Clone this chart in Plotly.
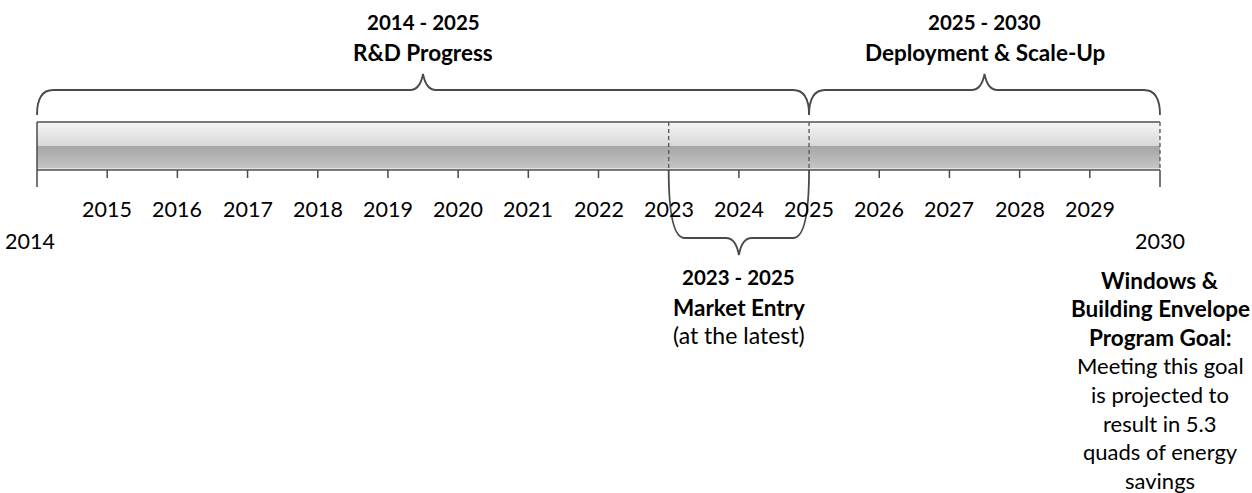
import plotly.graph_objects as go

# Timeline data
start_year = 2014
end_year = 2030
minor_years = list(range(2015, 2030))
end_labels = [2014, 2030]

phases = [
    {"start": 2014, "end": 2025, "title": "2014 - 2025", "name": "R&D Progress"},
    {"start": 2025, "end": 2030, "title": "2025 - 2030", "name": "Deployment & Scale-Up"},
]
market_entry = {"start": 2023, "end": 2025, "title": "2023 - 2025",
                "name": "Market Entry", "note": "(at the latest)"}
dashed_years = [2023, 2025, 2030]

goal_bold = ["Windows &", "Building Envelope", "Program Goal:"]
goal_text = ["Meeting this goal", "is projected to", "result in 5.3",
             "quads of energy", "savings"]

W, H = 1252, 493
PX_PER_YEAR = (1160 - 37) / (end_year - start_year)
x0 = start_year - 37 / PX_PER_YEAR
x1 = start_year + (W - 37) / PX_PER_YEAR

FONT = "Lato, 'Open Sans', sans-serif"
LINE = "#4a4a4a"

def px(n):
    """Horizontal pixel distance expressed in years."""
    return n / PX_PER_YEAR

shapes = []

# Bar body: layered bands form the glossy grey gradient
bar_top, bar_mid, bar_bot = 122, 146, 170
def lerp(a, b, t):
    return int(round(a + (b - a) * t))

n = bar_mid - bar_top
for i in range(n):
    t = i / max(n - 1, 1)
    c = lerp(245, 216, t)
    shapes.append(dict(type="rect", xref="x", yref="y", x0=start_year, x1=end_year,
                       y0=bar_top + i, y1=bar_top + i + 1, line_width=0,
                       fillcolor=f"rgb({c},{c},{c})", layer="below"))
n = bar_bot - 2 - bar_mid
for i in range(n):
    t = i / max(n - 1, 1)
    c = lerp(166, 196, t)
    shapes.append(dict(type="rect", xref="x", yref="y", x0=start_year, x1=end_year,
                       y0=bar_mid + i, y1=bar_mid + i + 1, line_width=0,
                       fillcolor=f"rgb({c},{c},{c})", layer="below"))
shapes.append(dict(type="rect", xref="x", yref="y", x0=start_year, x1=end_year,
                   y0=bar_bot - 2, y1=bar_bot, line_width=0,
                   fillcolor="rgb(225,225,225)", layer="below"))

# Bar outline top and bottom
for yy in (bar_top, bar_bot):
    shapes.append(dict(type="line", xref="x", yref="y", x0=start_year, x1=end_year,
                       y0=yy, y1=yy, line=dict(color="#505050", width=1.5)))

# Left end line
shapes.append(dict(type="line", xref="x", yref="y", x0=start_year, x1=start_year,
                   y0=bar_top, y1=187, line=dict(color=LINE, width=1.5)))
# Right end tail below the bar
shapes.append(dict(type="line", xref="x", yref="y", x0=end_year, x1=end_year,
                   y0=bar_bot, y1=187, line=dict(color=LINE, width=1.5)))

# Dashed separators inside the bar
for yr in dashed_years:
    shapes.append(dict(type="line", xref="x", yref="y", x0=yr, x1=yr,
                       y0=bar_top, y1=bar_bot,
                       line=dict(color="#555555", width=1.3, dash="4px,3px")))

# Minor ticks under the bar (2023 and 2025 are covered by the brace legs)
for yr in minor_years:
    if yr in (2023, 2025):
        continue
    shapes.append(dict(type="line", xref="x", yref="y", x0=yr, x1=yr,
                       y0=bar_bot, y1=178, line=dict(color=LINE, width=1.5)))


def brace(a, b, y_end, y_flat, y_tip, r=16, tip_w=13):
    """Curly brace path between years a and b (y in pixels)."""
    m = (a + b) / 2
    rx = px(r)
    tw = px(tip_w)
    cp = px(3)
    return (f"M {a},{y_end} Q {a},{y_flat} {a + rx},{y_flat} "
            f"L {m - tw},{y_flat} Q {m - cp},{y_flat} {m},{y_tip} "
            f"Q {m + cp},{y_flat} {m + tw},{y_flat} "
            f"L {b - rx},{y_flat} Q {b},{y_flat} {b},{y_end}")

for ph in phases:
    shapes.append(dict(type="path", xref="x", yref="y",
                       path=brace(ph["start"], ph["end"], 115, 90, 74),
                       line=dict(color=LINE, width=1.8)))

shapes.append(dict(type="path", xref="x", yref="y",
                   path=brace(market_entry["start"], market_entry["end"], bar_bot, 238, 255),
                   line=dict(color=LINE, width=1.8)))

annotations = []
def label(x, y, text, size=22, bold=False):
    annotations.append(dict(x=x, y=y, xref="x", yref="y", text=f"<b>{text}</b>" if bold else text,
                            showarrow=False, xanchor="center", yanchor="middle",
                            font=dict(family=FONT, size=size, color="#000000")))

for yr in minor_years:
    label(yr, 209, str(yr), size=21.5)
label(end_labels[0] - px(7), 241, str(end_labels[0]), size=21.5)
label(end_labels[1], 241, str(end_labels[1]), size=21.5)

for ph in phases:
    m = (ph["start"] + ph["end"]) / 2
    label(m, 22, ph["title"], size=20.5, bold=True)
    label(m, 52, ph["name"], size=22.5, bold=True)

m = (market_entry["start"] + market_entry["end"]) / 2
label(m, 277, market_entry["title"], size=20.5, bold=True)
label(m, 307, market_entry["name"], size=22.5, bold=True)
label(m, 335, market_entry["note"], size=23)

line_y = 280
for t in goal_bold:
    label(end_year, line_y, t, size=22.5, bold=True)
    line_y += 28.6
for t in goal_text:
    label(end_year, line_y, t, size=22)
    line_y += 28.6

fig = go.Figure()
fig.add_trace(go.Scatter(x=[x0, x1], y=[0, 0], mode="markers",
                         marker=dict(opacity=0), hoverinfo="skip", showlegend=False))
fig.update_layout(
    width=W, height=H,
    margin=dict(l=0, r=0, t=0, b=0),
    paper_bgcolor="white", plot_bgcolor="white",
    xaxis=dict(range=[x0, x1], visible=False, fixedrange=True),
    yaxis=dict(range=[H, 0], visible=False, fixedrange=True),
    shapes=shapes, annotations=annotations, showlegend=False,
)
fig.write_html("out.html")
